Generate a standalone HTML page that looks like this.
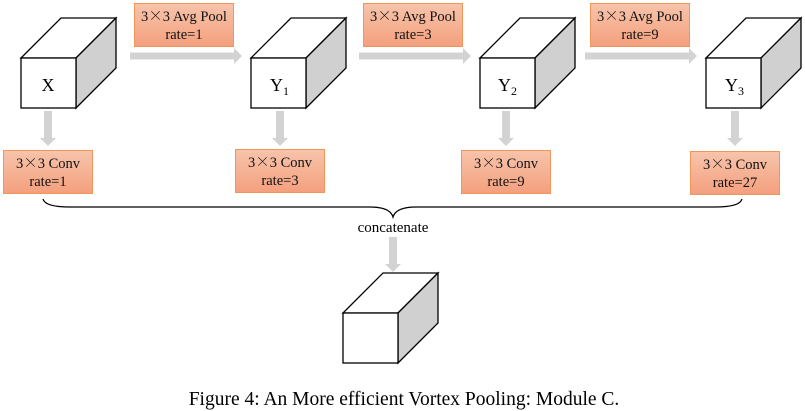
<!DOCTYPE html>
<html><head><style>
body{margin:0;background:#fff;width:805px;height:411px;overflow:hidden;position:relative;font-family:"Liberation Serif",serif;}
.b{position:absolute;box-sizing:border-box;border:1.5px solid #f0965a;background:linear-gradient(#f7c4ab,#f4a07e);text-align:center;font-size:14.5px;line-height:18px;color:#111;padding-top:3px;font-family:"Liberation Serif","Noto Serif CJK SC",serif;}
.x{font-family:"Noto Serif CJK SC",serif;}
</style></head><body>
<svg width="805" height="411" style="position:absolute;left:0;top:0">
<defs>
<g id="cube">
<polygon points="0,0 40,-40 95,-40 55,0" fill="#fff" stroke="#000" stroke-width="1.3"/>
<polygon points="55,0 95,-40 95,10 55,50" fill="#d0d0d0" stroke="#000" stroke-width="1.3"/>
<rect x="0" y="0" width="55" height="50" fill="#fff" stroke="#000" stroke-width="1.3"/>
</g>
<g id="ha"><rect x="0" y="-3.5" width="106" height="7" fill="#d3d3d3"/><polygon points="104,-8 112,0 104,8" fill="#d3d3d3"/></g>
<g id="va"><rect x="-4" y="0" width="8" height="28" fill="#d3d3d3"/><polygon points="-8,27 8,27 0,35" fill="#d3d3d3"/></g>
</defs>
<use href="#cube" x="21" y="58"/>
<use href="#cube" x="251" y="58"/>
<use href="#cube" x="480" y="58"/>
<use href="#cube" x="706" y="58"/>
<use href="#cube" x="343" y="313"/>
<use href="#ha" x="130" y="56"/>
<use href="#ha" x="359" y="56"/>
<use href="#ha" x="585" y="56"/>
<use href="#va" x="48" y="111"/>
<use href="#va" x="280" y="111"/>
<use href="#va" x="506" y="111"/>
<use href="#va" x="735" y="111"/>
<use href="#va" x="393" y="237"/>
<path d="M43,199 Q45,207 70,207 L370,207 Q390,207 393,217 Q396,207 416,207 L715,207 Q740,207 742,199" fill="none" stroke="#000" stroke-width="1.3"/>
<g font-family="Liberation Serif" font-size="18" fill="#000">
<text x="48" y="91" text-anchor="middle">X</text>
<text x="270" y="91">Y<tspan font-size="12" dy="4">1</tspan></text>
<text x="498" y="91">Y<tspan font-size="12" dy="4">2</tspan></text>
<text x="725" y="91">Y<tspan font-size="12" dy="4">3</tspan></text>
</g>
<text x="393" y="232" text-anchor="middle" font-family="Liberation Serif" font-size="15">concatenate</text>
<text x="404" y="405" text-anchor="middle" font-family="Liberation Serif" font-size="19.5">Figure 4: An More efficient Vortex Pooling: Module C.</text>
</svg>
<div class="b" style="left:134px;top:3px;width:100px;height:44px">3<span class="x">×</span>3 Avg Pool<br>rate=1</div>
<div class="b" style="left:363px;top:3px;width:100px;height:44px">3<span class="x">×</span>3 Avg Pool<br>rate=3</div>
<div class="b" style="left:590px;top:3px;width:100px;height:44px">3<span class="x">×</span>3 Avg Pool<br>rate=9</div>
<div class="b" style="left:3px;top:150px;width:90px;height:44px">3<span class="x">×</span>3 Conv<br>rate=1</div>
<div class="b" style="left:235px;top:149px;width:90px;height:44px">3<span class="x">×</span>3 Conv<br>rate=3</div>
<div class="b" style="left:461px;top:150px;width:90px;height:44px">3<span class="x">×</span>3 Conv<br>rate=9</div>
<div class="b" style="left:690px;top:151px;width:90px;height:44px">3<span class="x">×</span>3 Conv<br>rate=27</div>
</body></html>
